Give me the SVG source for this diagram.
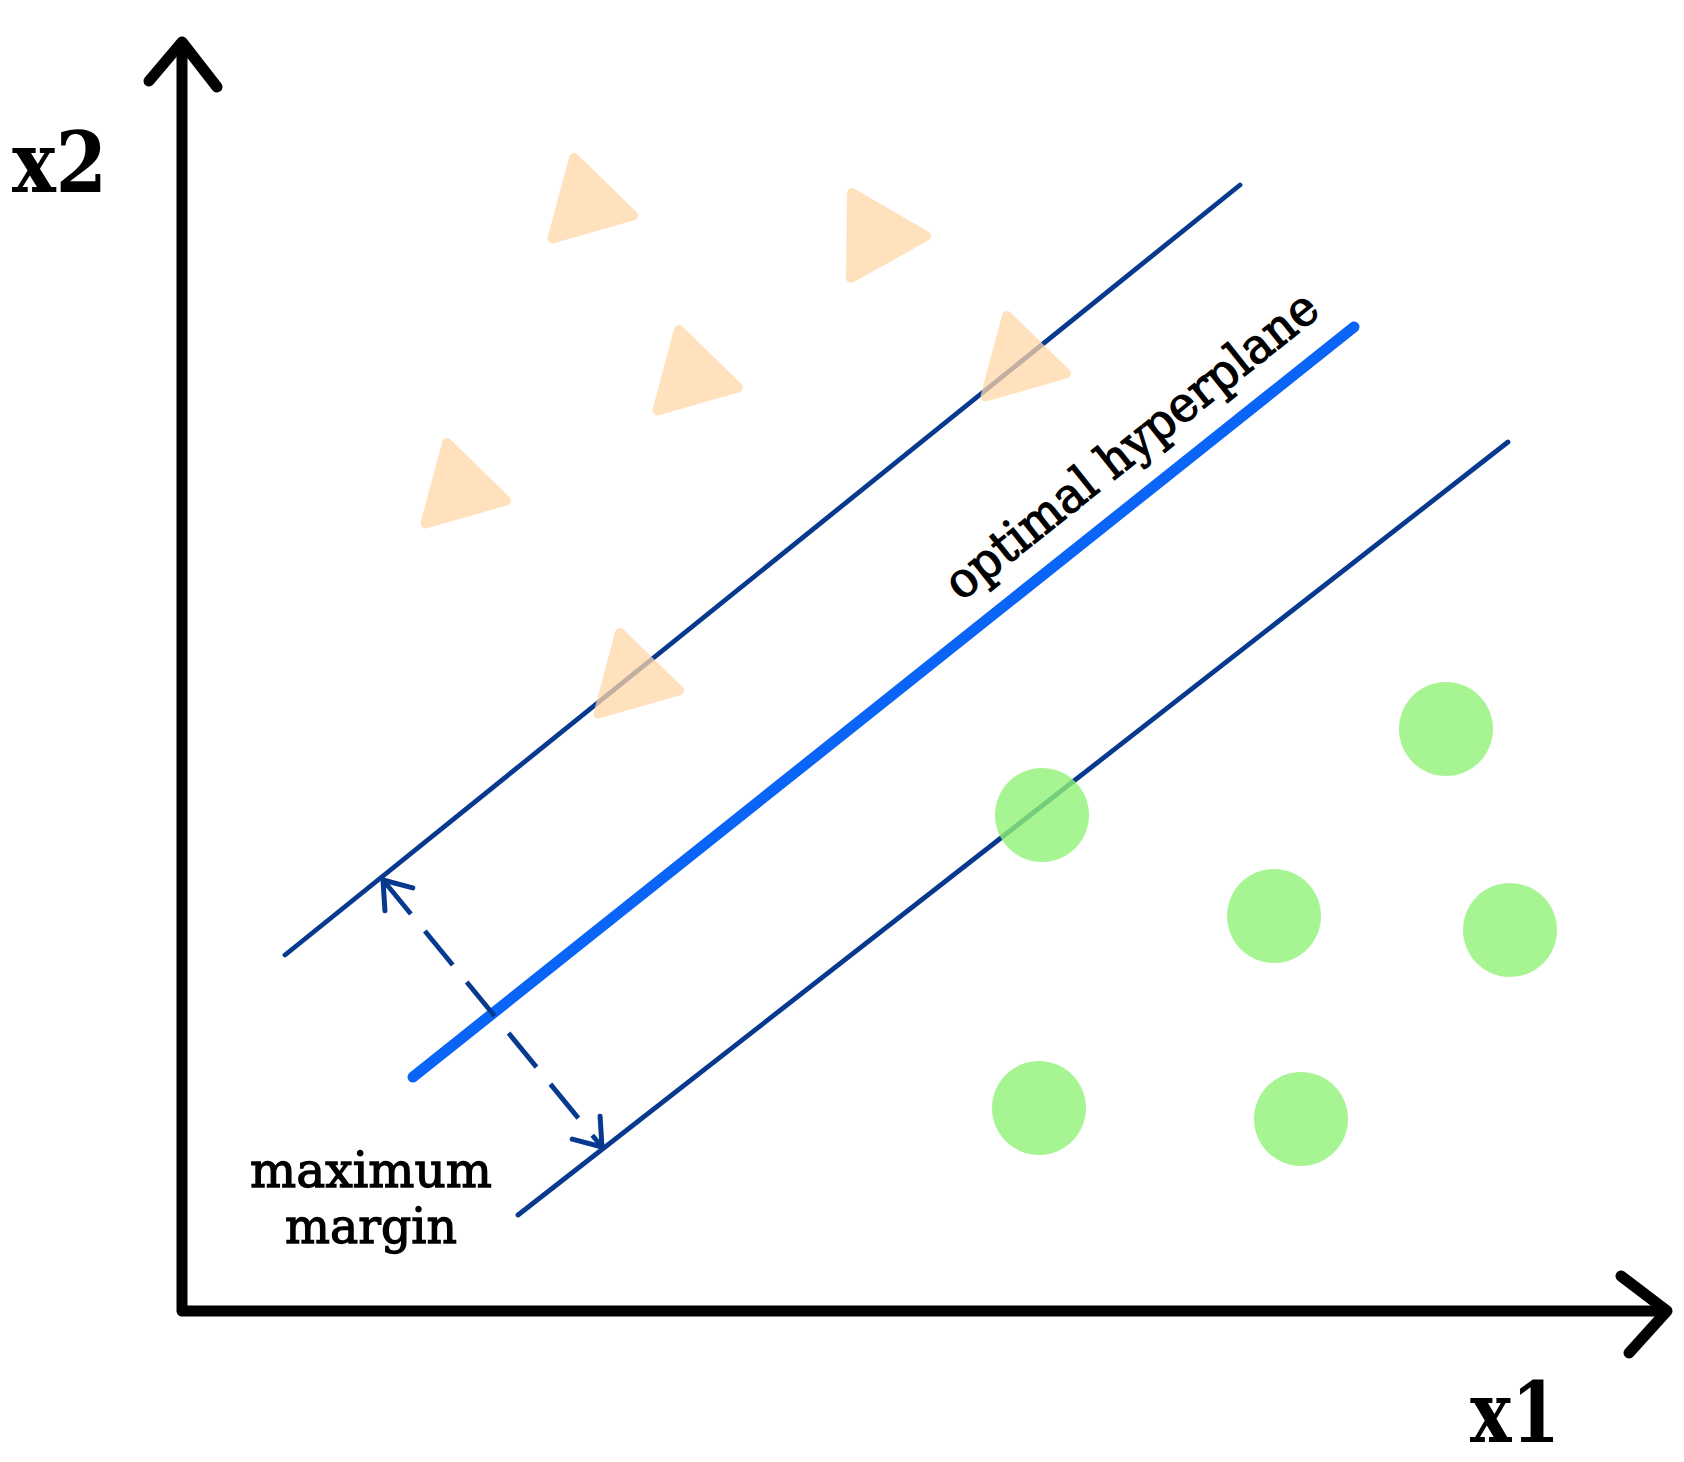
<svg xmlns="http://www.w3.org/2000/svg" width="1684" height="1462" viewBox="0 0 1684 1462">
  <style>
    .axis { fill: none; stroke: #000; stroke-width: 11; stroke-linecap: round; stroke-linejoin: round; }
    .margin { fill: none; stroke: #073a8e; stroke-width: 4.8; stroke-linecap: round; }
    .hyper { fill: none; stroke: #0a64f5; stroke-width: 11; stroke-linecap: round; }
    .dash { fill: none; stroke: #073a8e; stroke-width: 4.8; stroke-dasharray: 44 22; }
    .tri { fill: #ffd8a8; stroke: #ffd8a8; stroke-width: 10; stroke-linejoin: round; }
    .dot { fill: #90f377; opacity: 0.8; }
    .lbl { font-family: "DejaVu Serif", "Liberation Serif", serif; fill: #000; }
    .axlbl { font-size: 84px; font-weight: bold; }
    .txt { font-size: 49px; stroke: #000; stroke-width: 1.3; }
  </style>
  <defs>
    <marker id="chev" markerUnits="userSpaceOnUse" markerWidth="60" markerHeight="60" refX="0" refY="0" viewBox="-40 -30 50 60" orient="auto-start-reverse" overflow="visible">
      <path d="M-25,-18 L0,0 L-25,18" fill="none" stroke="#073a8e" stroke-width="5" stroke-linecap="round" stroke-linejoin="round"/>
    </marker>
    <path id="triA" class="tri" d="M2,6 L-19.5,86.5 L61,63.5 Z"/>
  </defs>
  <rect width="1684" height="1462" fill="#fff"/>

  <g id="axes">
    <path class="axis" d="M182,43 V1311 H1666"/>
    <path class="axis" d="M149,81 L182,42 L217,87"/>
    <path class="axis" d="M1621,1276 L1667,1311 L1629,1353"/>
  </g>

  <g id="connectors">
    <line id="margin-upper" class="margin" x1="285" y1="955" x2="1240" y2="185"/>
    <line id="margin-lower" class="margin" x1="518" y1="1215" x2="1508" y2="442"/>
    <line id="hyperplane" class="hyper" x1="413" y1="1077" x2="1354" y2="327"/>
    <line id="max-margin-arrow" class="dash" x1="383" y1="880" x2="602" y2="1147" marker-start="url(#chev)" marker-end="url(#chev)"/>
  </g>

  <g id="triangles">
    <g id="tri1"><use href="#triA" transform="translate(572,152)" opacity="0.75"/></g>
    <g id="tri2" opacity="0.75"><path class="tri" d="M852,193 L851,278 L926,236 Z"/></g>
    <g id="tri3"><use href="#triA" transform="translate(677,324)" opacity="0.75"/></g>
    <g id="tri4"><use href="#triA" transform="translate(1005,310)" opacity="0.75"/></g>
    <g id="tri5"><use href="#triA" transform="translate(445,437)" opacity="0.75"/></g>
    <g id="tri6"><use href="#triA" transform="translate(618,627)" opacity="0.75"/></g>
  </g>

  <g id="circles">
    <circle id="c1" class="dot" cx="1446" cy="729" r="47"/>
    <circle id="c2" class="dot" cx="1042" cy="815" r="47"/>
    <circle id="c3" class="dot" cx="1274" cy="916" r="47"/>
    <circle id="c4" class="dot" cx="1510" cy="930" r="47"/>
    <circle id="c5" class="dot" cx="1039" cy="1108" r="47"/>
    <circle id="c6" class="dot" cx="1301" cy="1119" r="47"/>
  </g>

  <g id="labels" class="lbl">
    <text id="x2-label" class="axlbl" x="12" y="192" textLength="95" lengthAdjust="spacingAndGlyphs">x2</text>
    <text id="x1-label" class="axlbl" x="1470" y="1442" textLength="90" lengthAdjust="spacingAndGlyphs">x1</text>
    <text id="hyperplane-label" class="txt" transform="translate(961,602) rotate(-38.55)" x="0" y="0" textLength="462" lengthAdjust="spacingAndGlyphs">optimal hyperplane</text>
    <text id="margin-label-1" class="txt" x="250" y="1187" textLength="242" lengthAdjust="spacingAndGlyphs">maximum</text>
    <text id="margin-label-2" class="txt" x="285" y="1243" textLength="172" lengthAdjust="spacingAndGlyphs">margin</text>
  </g>
</svg>
